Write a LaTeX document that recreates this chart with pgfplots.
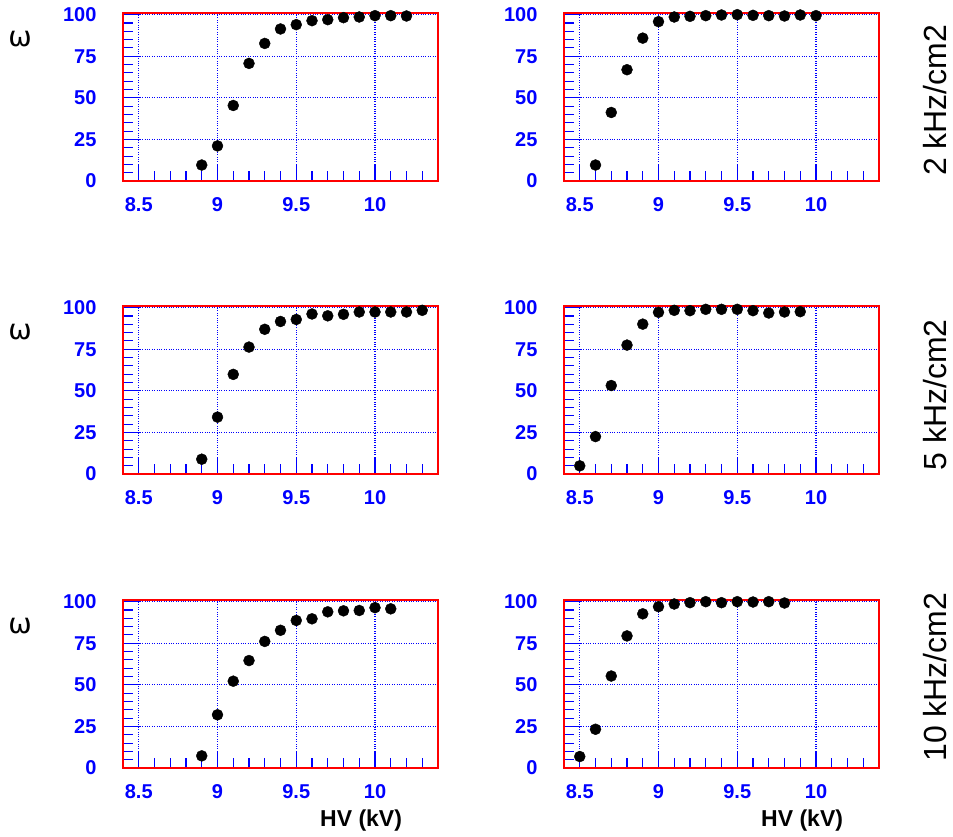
\documentclass[border=0pt]{standalone}
\usepackage{fontspec}
\setmainfont{Liberation Sans}
\newfontfamily\dejavu{DejaVu Sans}
\usepackage{pgfplots}
\pgfplotsset{compat=1.18}
\pgfplotsset{
  myax/.style={
    scale only axis, width=315pt, height=168pt,
    xmin=8.4, xmax=10.4, ymin=0, ymax=101,
    xtick={8.5,9,9.5,10},
    minor xtick={8.6,8.7,8.8,8.9,9.1,9.2,9.3,9.4,9.6,9.7,9.8,9.9,10.1,10.2,10.3},
    ytick={0,25,50,75,100},
    minor ytick={5,10,15,20,30,35,40,45,55,60,65,70,80,85,90,95},
    tick pos=left, tick align=inside,
    major tick length=17pt, minor tick length=10pt,
    tick style={blue, line width=1.1pt},
    grid=major,
    major grid style={blue, dotted, line width=1.1pt},
    axis line style={red, line width=2.8pt},
    /pgf/number format/assume math mode=true,
    tick label style={font=\fontsize{20}{22}\selectfont\bfseries, text=blue},
    xticklabel style={yshift=-13pt},
    yticklabel style={xshift=-23pt},
    clip=false,
  },
  omeg/.style={ylabel={ω},
    ylabel style={at={(rel axis cs:-0.327,0.845)}, rotate=-90, anchor=center,
      font=\dejavu\fontsize{28}{30}\selectfont}},
  hvlab/.style={xlabel={HV (kV)},
    xlabel style={at={(rel axis cs:0.897,-0.31)}, anchor=east,
      font=\fontsize{23}{25}\selectfont\bfseries}},
  pts/.style={only marks, mark=*, mark size=5.5pt, black},
}
\begin{document}
\begin{tikzpicture}[x=1pt,y=1pt]
\useasboundingbox (0,0) rectangle (953,-836);
% Row 1
\begin{axis}[myax, omeg, at={(123pt,-13pt)}, anchor=north west]
\addplot[pts] coordinates {(8.9,9.6)(9.0,21.1)(9.1,45.4)(9.2,70.7)(9.3,82.7)(9.4,91.4)(9.5,94.0)(9.6,96.4)(9.7,97.0)(9.8,98.2)(9.9,98.6)(10.0,99.4)(10.1,99.4)(10.2,99.2)};
\end{axis}
\begin{axis}[myax, at={(564pt,-13pt)}, anchor=north west]
\addplot[pts] coordinates {(8.6,9.6)(8.7,41.2)(8.8,66.9)(8.9,85.9)(9.0,95.8)(9.1,98.6)(9.2,99.0)(9.3,99.4)(9.4,99.8)(9.5,100)(9.6,99.6)(9.7,99.4)(9.8,99.2)(9.9,99.8)(10.0,99.4)};
\node[rotate=90, font=\fontsize{32}{34}\selectfont] at (rel axis cs:1.177,0.48) {2 kHz/cm2};
\end{axis}
% Row 2
\begin{axis}[myax, omeg, at={(123pt,-306pt)}, anchor=north west]
\addplot[pts] coordinates {(8.9,8.9)(9.0,34.2)(9.1,59.9)(9.2,76.3)(9.3,87.0)(9.4,91.7)(9.5,92.9)(9.6,96.2)(9.7,95.1)(9.8,96.0)(9.9,97.4)(10.0,97.4)(10.1,97.4)(10.2,97.4)(10.3,98.4)};
\end{axis}
\begin{axis}[myax, at={(564pt,-306pt)}, anchor=north west]
\addplot[pts] coordinates {(8.5,4.9)(8.6,22.5)(8.7,53.2)(8.8,77.5)(8.9,90.1)(9.0,97.2)(9.1,98.4)(9.2,98.2)(9.3,99.0)(9.4,99.0)(9.5,99.0)(9.6,98.2)(9.7,96.8)(9.8,97.4)(9.9,97.6)};
\node[rotate=90, font=\fontsize{32}{34}\selectfont] at (rel axis cs:1.177,0.47) {5 kHz/cm2};
\end{axis}
% Row 3
\begin{axis}[myax, omeg, hvlab, at={(123pt,-600pt)}, anchor=north west]
\addplot[pts] coordinates {(8.9,7.3)(9.0,32.0)(9.1,52.2)(9.2,64.6)(9.3,76.1)(9.4,82.8)(9.5,88.7)(9.6,89.7)(9.7,93.9)(9.8,94.5)(9.9,94.7)(10.0,96.4)(10.1,95.7)};
\end{axis}
\begin{axis}[myax, hvlab, at={(564pt,-600pt)}, anchor=north west]
\addplot[pts] coordinates {(8.5,6.9)(8.6,23.3)(8.7,55.3)(8.8,79.4)(8.9,92.7)(9.0,97.0)(9.1,98.6)(9.2,99.4)(9.3,100)(9.4,99.4)(9.5,100)(9.6,99.8)(9.7,100)(9.8,99.2)};
\node[rotate=90, font=\fontsize{32}{34}\selectfont] at (rel axis cs:1.177,0.54) {10 kHz/cm2};
\end{axis}
\end{tikzpicture}
\end{document}
